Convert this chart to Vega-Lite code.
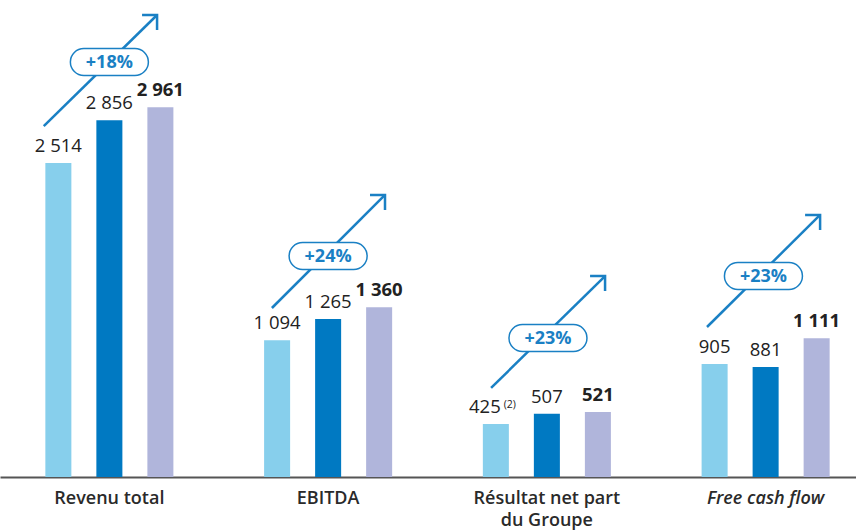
{
  "$schema": "https://vega.github.io/schema/vega-lite/v6.json",
  "width": 856,
  "height": 477,
  "autosize": "none",
  "padding": {"left": 0, "top": 0, "right": 0, "bottom": 53},
  "background": "white",
  "config": {
    "view": {"stroke": null},
    "font": "Open Sans",
    "locale": {"number": {"decimal": ",", "thousands": " ", "grouping": [3], "currency": ["", " €"]}}
  },
  "datasets": {
    "bars": [
      {"group": "Revenu total", "period": "N-2", "value": 2514},
      {"group": "Revenu total", "period": "N-1", "value": 2856},
      {"group": "Revenu total", "period": "N", "value": 2961},
      {"group": "EBITDA", "period": "N-2", "value": 1094},
      {"group": "EBITDA", "period": "N-1", "value": 1265},
      {"group": "EBITDA", "period": "N", "value": 1360},
      {"group": "Résultat net part du Groupe", "period": "N-2", "value": 425, "note": "(2)"},
      {"group": "Résultat net part du Groupe", "period": "N-1", "value": 507},
      {"group": "Résultat net part du Groupe", "period": "N", "value": 521},
      {"group": "Free cash flow", "period": "N-2", "value": 905},
      {"group": "Free cash flow", "period": "N-1", "value": 881},
      {"group": "Free cash flow", "period": "N", "value": 1111}
    ],
    "growth": [
      {"group": "Revenu total", "x1": -0.30, "y1": 2810, "x2": 0.218, "y2": 3699, "px": 0.0, "py": 3323, "pct": "+18%"},
      {"group": "EBITDA", "x1": 0.743, "y1": 1353, "x2": 1.26, "y2": 2258, "px": 1.0, "py": 1769, "pct": "+24%"},
      {"group": "Résultat net part du Groupe", "x1": 1.745, "y1": 713, "x2": 2.266, "y2": 1609, "px": 2.005, "py": 1113, "pct": "+23%"},
      {"group": "Free cash flow", "x1": 2.732, "y1": 1201, "x2": 3.249, "y2": 2098, "px": 2.99, "py": 1609, "pct": "+23%"}
    ]
  },
  "layer": [
    {
      "data": {"name": "bars"},
      "encoding": {
        "x": {
          "field": "group", "type": "nominal",
          "sort": ["Revenu total", "EBITDA", "Résultat net part du Groupe", "Free cash flow"],
          "scale": {"range": [0, 875], "paddingInner": 0, "paddingOuter": 0},
          "axis": {
            "title": null, "labelAngle": 0, "ticks": false, "grid": false,
            "domainColor": "#555555", "domainWidth": 2,
            "labelPadding": 12, "labelFontSize": 18, "labelFontWeight": 600, "labelColor": "#2a2a2a",
            "labelLineHeight": 22,
            "labelExpr": "datum.value == 'Résultat net part du Groupe' ? ['Résultat net part', 'du Groupe'] : datum.value",
            "labelFontStyle": {"condition": {"test": "datum.value == 'Free cash flow'", "value": "italic"}, "value": "normal"}
          }
        },
        "xOffset": {
          "field": "period", "type": "nominal", "sort": ["N-2", "N-1", "N"],
          "scale": {"paddingInner": 0.49, "paddingOuter": 0.889}
        },
        "y": {"field": "value", "type": "quantitative", "scale": {"domain": [0, 3819]}, "axis": null}
      },
      "layer": [
        {
          "mark": {"type": "bar"},
          "encoding": {
            "color": {
              "field": "period", "type": "nominal", "legend": null,
              "scale": {"domain": ["N-2", "N-1", "N"], "range": ["#87CFEC", "#0079C2", "#B0B5DB"]}
            }
          }
        },
        {
          "transform": [{"filter": "datum.period != 'N' && !datum.note"}],
          "mark": {"type": "text", "dy": -11, "baseline": "alphabetic", "fontSize": 18.5, "color": "#222222"},
          "encoding": {"text": {"field": "value", "type": "quantitative", "format": ",d"}}
        },
        {
          "transform": [{"filter": "datum.period == 'N'"}],
          "mark": {"type": "text", "dy": -11, "baseline": "alphabetic", "fontSize": 18.5, "fontWeight": "bold", "color": "#222222"},
          "encoding": {"text": {"field": "value", "type": "quantitative", "format": ",d"}}
        },
        {
          "transform": [{"filter": "datum.note"}],
          "mark": {"type": "text", "dy": -11, "dx": -11, "baseline": "alphabetic", "fontSize": 18.5, "color": "#222222"},
          "encoding": {"text": {"field": "value", "type": "quantitative", "format": ",d"}}
        },
        {
          "transform": [{"filter": "datum.note"}],
          "mark": {"type": "text", "dy": -16, "dx": 14, "baseline": "alphabetic", "fontSize": 10.5, "color": "#222222"},
          "encoding": {"text": {"field": "note", "type": "nominal"}}
        }
      ]
    },
    {
      "data": {"name": "growth"},
      "layer": [
        {
          "mark": {"type": "rule", "color": "#1A80C4", "strokeWidth": 2.5, "strokeCap": "butt"},
          "encoding": {
            "x": {"field": "x1", "type": "quantitative", "scale": {"domain": [-0.5, 3.5], "range": [0, 875]}, "axis": null},
            "x2": {"field": "x2"},
            "y": {"field": "y1", "type": "quantitative", "scale": {"domain": [0, 3819]}, "axis": null},
            "y2": {"field": "y2"}
          }
        },
        {
          "mark": {"type": "point", "shape": "M -1 -1 L 0 0 L -1 1", "filled": false, "stroke": "#1A80C4", "strokeWidth": 2.5, "size": 450, "angle": 315, "opacity": 1, "strokeJoin": "miter"},
          "encoding": {
            "x": {"field": "x2", "type": "quantitative", "scale": {"domain": [-0.5, 3.5], "range": [0, 875]}, "axis": null},
            "y": {"field": "y2", "type": "quantitative", "scale": {"domain": [0, 3819]}, "axis": null}
          }
        },
        {
          "mark": {"type": "point", "shape": "M -0.654 -0.346 L 0.654 -0.346 C 0.845 -0.346 1 -0.191 1 0 C 1 0.191 0.845 0.346 0.654 0.346 L -0.654 0.346 C -0.845 0.346 -1 0.191 -1 0 C -1 -0.191 -0.845 -0.346 -0.654 -0.346 Z", "filled": true, "fill": "white", "stroke": "#1A80C4", "strokeWidth": 1.5, "size": 6084, "opacity": 1},
          "encoding": {
            "x": {"field": "px", "type": "quantitative", "scale": {"domain": [-0.5, 3.5], "range": [0, 875]}, "axis": null},
            "y": {"field": "py", "type": "quantitative", "scale": {"domain": [0, 3819]}, "axis": null}
          }
        },
        {
          "mark": {"type": "text", "fontSize": 18, "fontWeight": "bold", "color": "#1A80C4", "baseline": "middle", "align": "center", "dy": 1},
          "encoding": {
            "x": {"field": "px", "type": "quantitative", "scale": {"domain": [-0.5, 3.5], "range": [0, 875]}, "axis": null},
            "y": {"field": "py", "type": "quantitative", "scale": {"domain": [0, 3819]}, "axis": null},
            "text": {"field": "pct", "type": "nominal"}
          }
        }
      ]
    }
  ],
  "resolve": {"scale": {"x": "independent"}, "axis": {"x": "independent"}}
}
